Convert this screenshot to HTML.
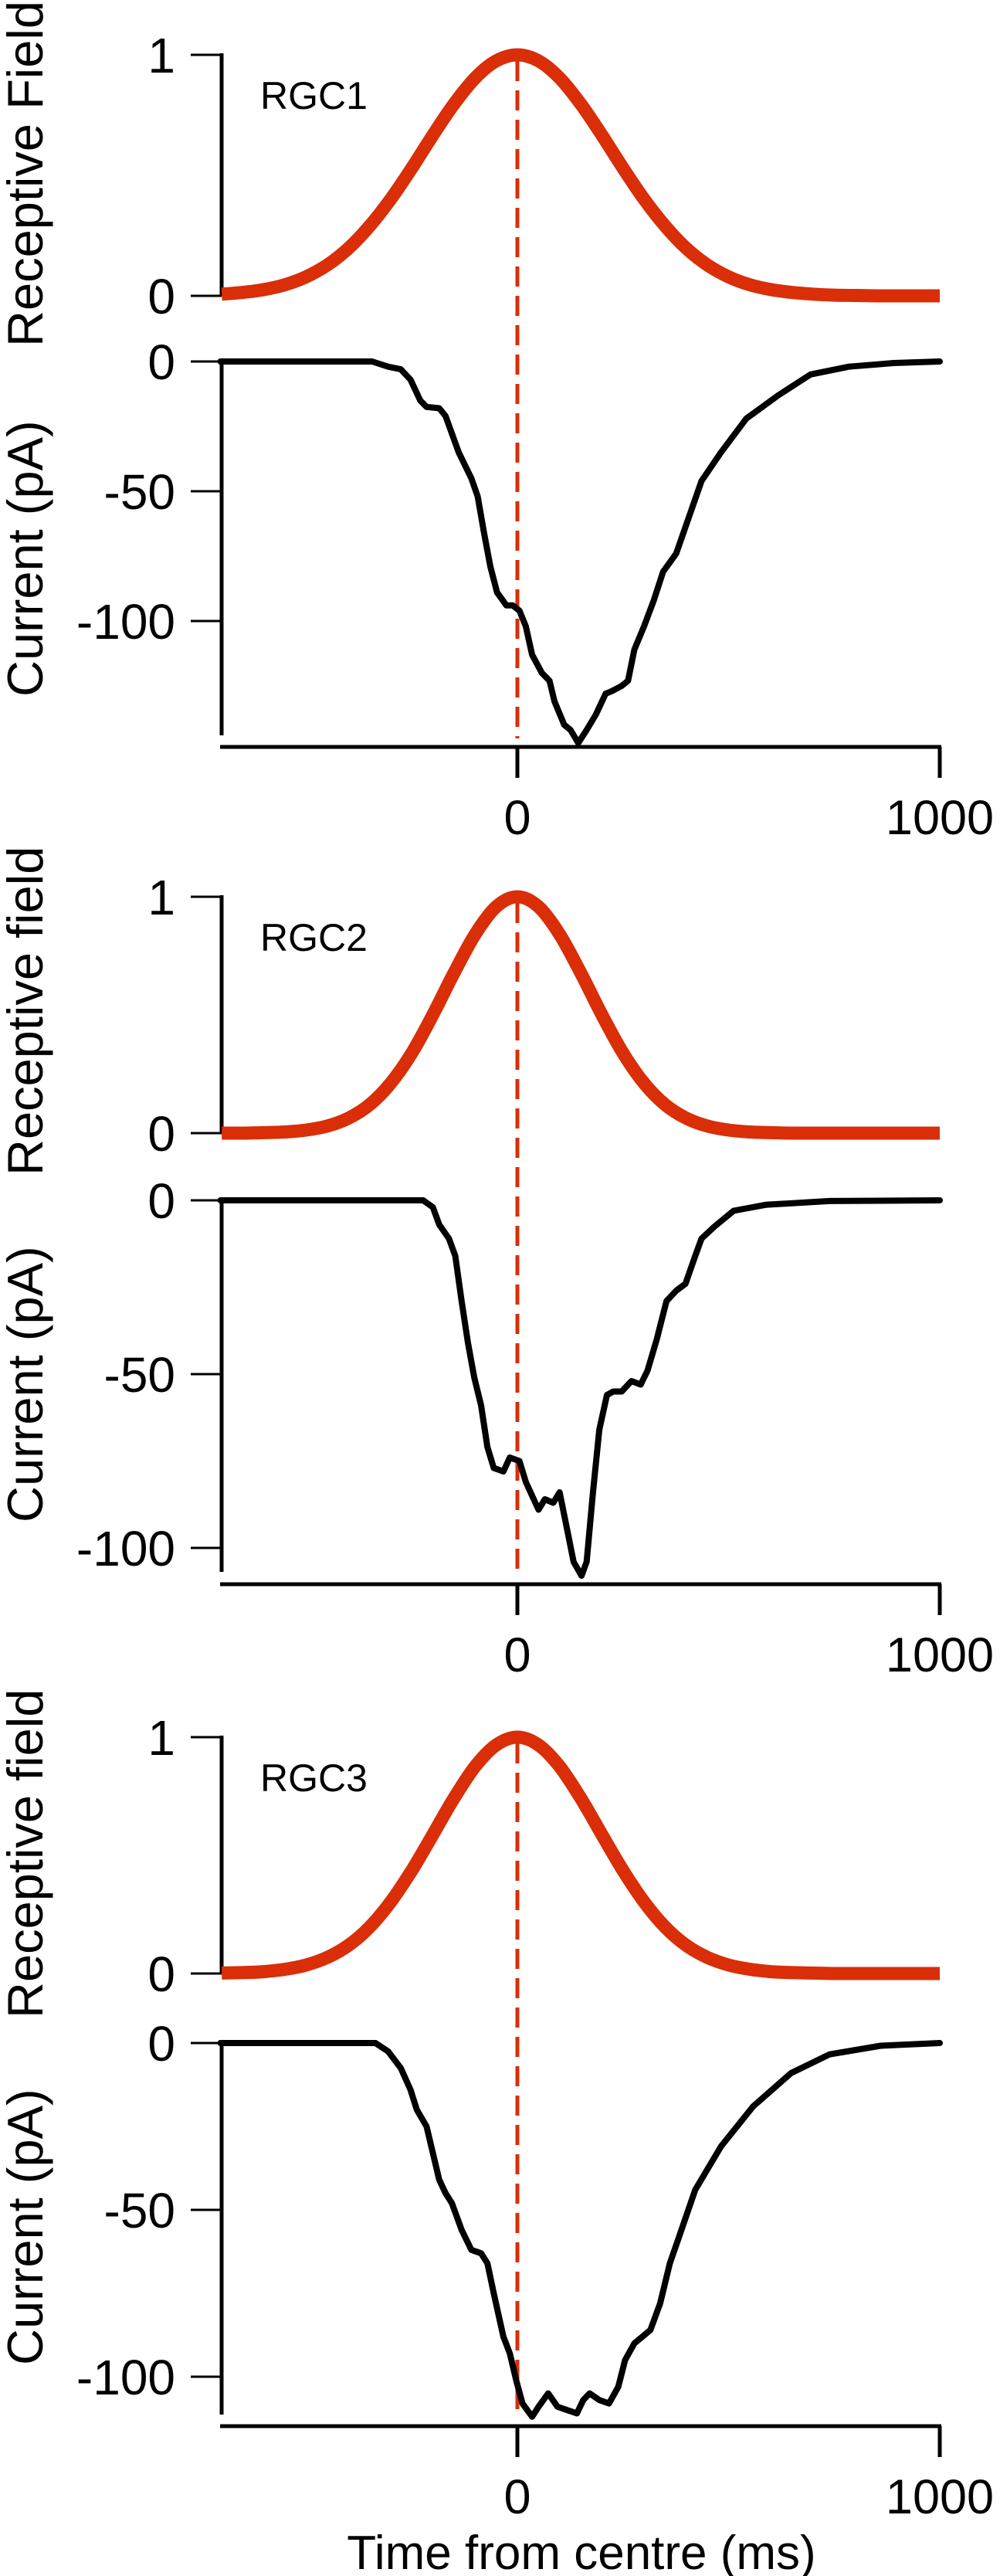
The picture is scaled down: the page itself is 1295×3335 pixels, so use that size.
<!DOCTYPE html>
<html><head><meta charset="utf-8"><style>
html,body{margin:0;padding:0;background:#fff;}
svg{display:block;}
text{font-family:"Liberation Sans",Arial,sans-serif;fill:#000;}
</style></head>
<body>
<svg id="chart" width="1295" height="3335" viewBox="0 0 1295 3335" xmlns="http://www.w3.org/2000/svg"></svg>
<script>
// ---- data ----
var rfTimes = [-700,-650,-600,-550,-500,-450,-400,-350,-300,-250,-200,-150,-100,-50,0,50,100,150,200,250,300,350,400,450,500,550,600,650,700,750,800,850,900,950,1000];
var rf1 = [0.007,0.014,0.026,0.046,0.079,0.128,0.197,0.289,0.401,0.530,0.667,0.796,0.904,0.975,1,0.975,0.904,0.796,0.667,0.530,0.401,0.289,0.197,0.128,0.079,0.046,0.026,0.014,0.007,0.003,0.0015,0,0,0,0];
var rf2 = [0,0,0.002,0.005,0.013,0.030,0.063,0.120,0.211,0.339,0.501,0.678,0.841,0.958,1,0.958,0.841,0.678,0.501,0.339,0.211,0.120,0.063,0.030,0.013,0.005,0.002,0,0,0,0,0,0,0,0];
var rf3 = [0.002,0.004,0.008,0.018,0.036,0.068,0.119,0.196,0.303,0.436,0.588,0.742,0.876,0.967,1,0.967,0.876,0.742,0.588,0.436,0.303,0.196,0.119,0.068,0.036,0.018,0.008,0.004,0.002,0,0,0,0,0,0];

var cur1T = [-703,-344,-306,-276,-253,-230,-215,-185,-170,-139,-109,-94,-79,-64,-48,-26,-11,5,20,35,58,76,88,111,126,144,164,186,209,224,247,262,277,300,323,345,376,406,436,482,542,618,694,785,891,1001];
var cur1V = [0,0,-2,-3,-7,-15,-17.5,-18,-21,-35,-45,-52,-66,-79,-89,-94,-94,-96,-102,-113,-120,-123,-131,-140,-142,-147,-142,-136,-128,-127,-125,-123,-111,-102,-92,-81,-74,-60,-46,-35,-22,-13,-5,-2,-0.6,0];

var cur2T = [-703,-223,-200,-185,-162,-147,-132,-117,-102,-86,-71,-56,-33,-18,5,20,35,50,65,85,100,115,133,152,164,179,194,212,227,247,270,292,308,330,353,376,398,421,436,467,512,588,739,1001];
var cur2V = [0,0,-2,-7,-11,-16,-29,-41,-51,-59,-71,-77,-78,-74,-75,-81,-85,-89,-86,-87,-84,-93,-104,-108,-104,-84,-66,-56,-55,-55,-52,-53,-49,-40,-29,-26,-24,-16,-11,-7.5,-3,-1.3,-0.2,0];

var cur3T = [-703,-336,-306,-276,-253,-238,-215,-200,-185,-170,-155,-132,-109,-86,-71,-56,-33,-18,-3,12,35,50,73,95,118,141,156,171,194,217,239,255,277,315,338,361,383,421,482,558,648,739,860,1001];
var cur3V = [0,0,-2.5,-7.5,-14,-20,-25,-33,-41,-45,-48,-56,-62,-63,-66,-75,-88,-93,-101,-108,-112,-109,-105,-109,-110,-111,-107,-105,-107,-108,-103,-95,-90,-86,-78,-66,-58,-44,-31,-19,-9,-3.4,-0.8,0];

var xTickVals = [0, 1000];
var rfTickVals = [0, 1];
var curTickVals = [0, -50, -100];
var panelNames = ["RGC1","RGC2","RGC3"];
var rfTitles = ["Receptive Field","Receptive field","Receptive field"];

// ---- layout ----
var X0 = 670, XS = 0.547, XMIN = -705, XMAX = 1000;
function xs(t){ return X0 + XS*t; }
var panels = [
 {rf:rf1, ct:cur1T, cv:cur1V, rf1y:71, rf0y:383, c0:468, per50:168, axBot:952, xAxis:967, rfTitleBottom:449, curTitleBottom:902},
 {rf:rf2, ct:cur2T, cv:cur2V, rf1y:1161, rf0y:1467, c0:1554, per50:225, axBot:2035, xAxis:2051, rfTitleBottom:1522, curTitleBottom:1971},
 {rf:rf3, ct:cur3T, cv:cur3V, rf1y:2249, rf0y:2555, c0:2645, per50:216, axBot:3126, xAxis:3141, rfTitleBottom:2613, curTitleBottom:3062}
];
var NS = "http://www.w3.org/2000/svg";
var svg = document.getElementById('chart');
function mk(tag, attrs, parent){
  var e = document.createElementNS(NS, tag);
  for (var k in attrs) e.setAttribute(k, attrs[k]);
  (parent||svg).appendChild(e);
  return e;
}
function smoothPath(pts){
  var d = "M"+pts[0][0].toFixed(1)+","+pts[0][1].toFixed(1);
  for (var i=0;i<pts.length-1;i++){
    var p0=pts[Math.max(0,i-1)], p1=pts[i], p2=pts[i+1], p3=pts[Math.min(pts.length-1,i+2)];
    var c1x=p1[0]+(p2[0]-p0[0])/6, c1y=p1[1]+(p2[1]-p0[1])/6;
    var c2x=p2[0]-(p3[0]-p1[0])/6, c2y=p2[1]-(p3[1]-p1[1])/6;
    d += " C"+c1x.toFixed(1)+","+c1y.toFixed(1)+" "+c2x.toFixed(1)+","+c2y.toFixed(1)+" "+p2[0].toFixed(1)+","+p2[1].toFixed(1);
  }
  return d;
}
function linePath(pts){
  return pts.map(function(q,k){ return (k?"L":"M")+q[0].toFixed(1)+","+q[1].toFixed(1); }).join(" ");
}
var AX = 287, RED = "#d92e08";

panels.forEach(function(p, i){
  var g = mk('g', {});
  
  
  function ry(v){ return p.rf0y + (p.rf1y - p.rf0y)*v; }
  function cy(v){ return p.c0 - v/50*p.per50; }

  var ax1 = mk('line', {x1:AX, y1:p.rf1y-2, x2:AX, y2:p.rf0y, stroke:'#000','stroke-width':5}, g);
  
  
  rfTickVals.forEach(function(v){
    var y = ry(v);
    var tk = mk('line', {x1:247, y1:y, x2:AX, y2:y, stroke:'#000','stroke-width':3}, g);
    
    
    var tl = mk('text', {x:227, y:y+23, 'text-anchor':'end','font-size':64}, g);
    tl.textContent = String(v);
    
    
  });
  var ax2 = mk('line', {x1:AX, y1:p.c0, x2:AX, y2:p.axBot, stroke:'#000','stroke-width':5}, g);
  
  
  curTickVals.forEach(function(v){
    var y = cy(v);
    var tk = mk('line', {x1:247, y1:y, x2:AX, y2:y, stroke:'#000','stroke-width':3}, g);
    
    
    var tl = mk('text', {x:227, y:y+23, 'text-anchor':'end','font-size':64}, g);
    tl.textContent = String(v);
    
    
  });
  var xa = mk('line', {x1:285, y1:p.xAxis, x2:xs(XMAX)+2, y2:p.xAxis, stroke:'#000','stroke-width':5}, g);
  
  
  xTickVals.forEach(function(v){
    var x = xs(v);
    var tk = mk('line', {x1:x, y1:p.xAxis, x2:x, y2:p.xAxis+40, stroke:'#000','stroke-width':5}, g);
    
    
    var tl = mk('text', {x:x, y:p.xAxis+113, 'text-anchor':'middle','font-size':63}, g);
    tl.textContent = String(v);
    
    
  });
  var t1 = mk('text', {transform:'translate(55,'+p.rfTitleBottom+') rotate(-90)', 'font-size':65}, g);
  t1.textContent = rfTitles[i];
  
  
  var t2 = mk('text', {transform:'translate(55,'+p.curTitleBottom+') rotate(-90)', 'font-size':65}, g);
  t2.textContent = "Current (pA)";
  
  
  var lab = mk('text', {x:337, y:p.rf1y+70, 'font-size':50}, g);
  lab.textContent = panelNames[i];
  
  

  var dl = mk('line', {x1:xs(0), y1:p.rf1y+8, x2:xs(0), y2:p.axBot+4, stroke:RED,'stroke-width':5,'stroke-dasharray':'26 12'}, g);
  
  

  var rpts = rfTimes.map(function(t,k){ return [xs(Math.max(t,XMIN)), ry(p.rf[k])]; });
  var rp = mk('path', {d:smoothPath(rpts), fill:'none', stroke:RED, 'stroke-width':17, 'stroke-linejoin':'round'}, g);
  
  

  var cpts = p.ct.map(function(t,k){ return [xs(Math.max(XMIN, Math.min(XMAX,t))), cy(p.cv[k])]; });
  var cp = mk('path', {d:linePath(cpts), fill:'none', stroke:'#000', 'stroke-width':8, 'stroke-linejoin':'round','stroke-linecap':'round'}, g);
  
  
});

var xt = mk('text', {x:753, y:3326, 'text-anchor':'middle', 'font-size':62});
xt.textContent = "Time from centre (ms)";


</script>
</body></html>
